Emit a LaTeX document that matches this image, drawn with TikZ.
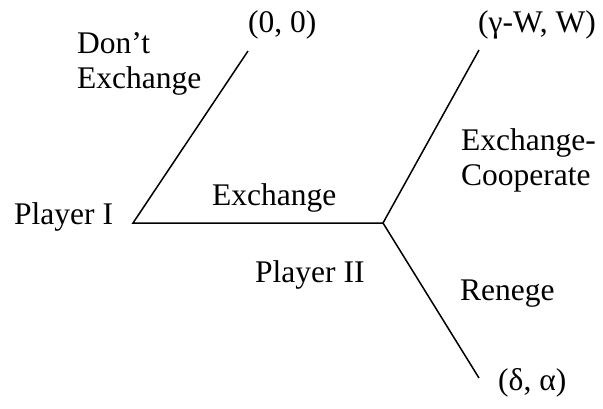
\documentclass[tikz,border=0pt]{standalone}
\usepackage{fontspec}
\setmainfont{Liberation Serif}
\begin{document}
\begin{tikzpicture}[x=1pt,y=-1pt,
  lbl/.style={anchor=base west,inner sep=0pt,font=\fontsize{31.5}{35}\selectfont},
  branch/.style={line width=1.5pt}]
\useasboundingbox (0,0) rectangle (603,408);
\coordinate (p1) at (133,223);
\coordinate (p2) at (383,223);
\coordinate (t1) at (248,51);
\coordinate (t2) at (479,50);
\coordinate (t3) at (479,378);
\draw[branch] (t1) -- (p1) -- (p2);
\draw[branch] (t2) -- (p2) -- (t3);
\node[lbl] (dont) at (77,53) {Don’t};
\node[lbl] (dontex) at (77,88) {Exchange};
\node[lbl] (o1) at (248,32) {(0, 0)};
\node[lbl] (o2) at (478,32) {(γ-W, W)};
\node[lbl] (ec1) at (461,150) {Exchange-};
\node[lbl] (ec2) at (461,185) {Cooperate};
\node[lbl] (ex) at (212,205) {Exchange};
\node[lbl] (pl1) at (14,224) {Player I};
\node[lbl] (pl2) at (255,282) {Player II};
\node[lbl] (ren) at (460,300) {Renege};
\node[lbl] (o3) at (498,390) {(δ, α)};
\end{tikzpicture}
\end{document}
